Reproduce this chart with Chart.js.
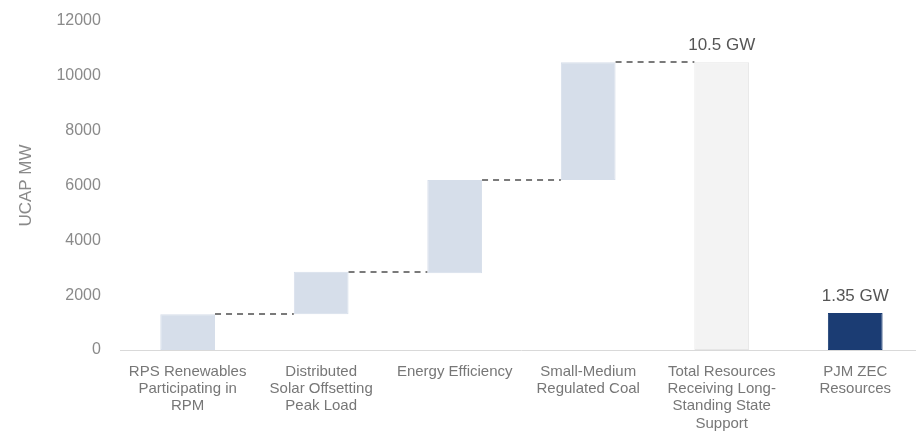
<!DOCTYPE html>
<html>
<head>
<meta charset="utf-8">
<script src="https://cdn.jsdelivr.net/npm/chart.js@4/dist/chart.umd.min.js"></script>
<style>
  html, body { margin: 0; padding: 0; background: #fff; overflow: hidden; }
  #wrap { width: 922px; height: 445px; }
</style>
</head>
<body>
<div id="wrap"><canvas id="myChart"></canvas></div>
<script>
var categories = [
  ["RPS Renewables", "Participating in", "RPM"],
  ["Distributed", "Solar Offsetting", "Peak Load"],
  ["Energy Efficiency"],
  ["Small-Medium", "Regulated Coal"],
  ["Total Resources", "Receiving Long-", "Standing State", "Support"],
  ["PJM ZEC", "Resources"],
];
var barStarts = [0, 1300, 2800, 6200, 0, 0];
var barEnds = [1300, 2850, 6200, 10500, 10500, 1350];
var valueLabels = ["", "", "", "", "10.5 GW", "1.35 GW"];
var yTicks = [0, 2000, 4000, 6000, 8000, 10000, 12000];

var barColors = ["#d6deea", "#d6deea", "#d6deea", "#d6deea", "#f3f3f3", "#1b3c73"];
var borderColors = ["#d6deea", "#d6deea", "#d6deea", "#d6deea", "#e6e6e6", "#1b3c73"];

var fontFamily = "'Liberation Sans', sans-serif";

// dashed connectors between steps + labels above totals
var waterfallExtras = {
  id: "waterfallExtras",
  afterDatasetsDraw: function (chart) {
    var ctx = chart.ctx;
    var y = chart.scales.y;
    var bars = chart.getDatasetMeta(0).data;
    ctx.save();
    ctx.strokeStyle = "#7a7a7a";
    ctx.lineWidth = 2;
    ctx.setLineDash([6, 5]);
    for (var i = 0; i < 4; i++) {
      var a = bars[i], b = bars[i + 1];
      var py = Math.round(y.getPixelForValue(barEnds[i]));
      ctx.beginPath();
      ctx.moveTo(a.x + a.width / 2, py);
      ctx.lineTo(b.x - b.width / 2, py);
      ctx.stroke();
    }
    ctx.setLineDash([]);
    ctx.fillStyle = "#555";
    ctx.font = "17px " + fontFamily;
    ctx.textAlign = "center";
    ctx.textBaseline = "bottom";
    for (var j = 0; j < bars.length; j++) {
      if (!valueLabels[j]) continue;
      ctx.fillText(valueLabels[j], bars[j].x, y.getPixelForValue(barEnds[j]) - 8);
    }
    ctx.restore();
  },
};

var data = {
  labels: categories,
  datasets: [
    {
      data: barStarts.map(function (s, i) { return [s, barEnds[i]]; }),
      backgroundColor: barColors,
      borderColor: borderColors,
      borderWidth: 1,
      borderSkipped: false,
      barPercentage: 0.41,
      categoryPercentage: 1,
    },
  ],
};

var options = {
  responsive: true,
  maintainAspectRatio: false,
  animation: false,
  layout: { padding: { top: 21, left: 16, right: 0, bottom: 0 } },
  plugins: {
    legend: { display: false },
    tooltip: { enabled: false },
  },
  scales: {
    x: {
      grid: { display: false, drawTicks: false },
      border: { color: "#d9d9d9", width: 1 },
      ticks: {
        color: "#777",
        font: { family: fontFamily, size: 15, lineHeight: 1.15 },
        maxRotation: 0,
        autoSkip: false,
        padding: 13,
      },
    },
    y: {
      min: 0,
      max: 12000,
      afterBuildTicks: function (axis) {
        axis.ticks = yTicks.map(function (v) { return { value: v }; });
      },
      // tick marks are hidden; their length only adds the gap to the plot
      grid: { display: false, drawTicks: true, tickLength: 16 },
      border: { display: false },
      ticks: {
        color: "#8a8a8a",
        font: { family: fontFamily, size: 16 },
        padding: 4,
        callback: function (v) { return String(v); },
      },
      title: {
        display: true,
        text: "UCAP MW",
        color: "#8a8a8a",
        font: { family: fontFamily, size: 17 },
        padding: { top: 0, bottom: 16 },
      },
    },
  },
};

var ctx = document.getElementById("myChart").getContext("2d");
var myChart = new Chart(ctx, {
  type: "bar",
  data: data,
  options: options,
  plugins: [waterfallExtras],
});
</script>
</body>
</html>
